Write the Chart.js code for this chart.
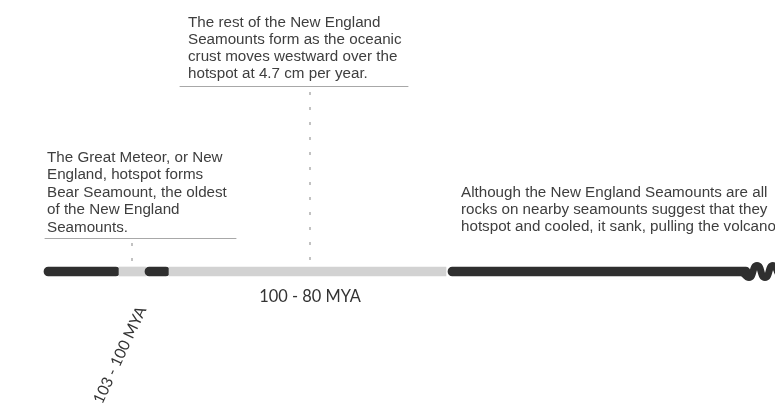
<!DOCTYPE html>
<html>
<head>
<meta charset="utf-8">
<script src="https://cdn.jsdelivr.net/npm/chart.js@4"></script>
<style>
html,body{margin:0;padding:0;background:#fff;}
#wrap{width:775px;height:407px;position:relative;overflow:hidden;}
</style>
</head>
<body>
<div id="wrap"><canvas id="c"></canvas></div>
<script>
// Timeline segments (position along the timeline, start/end)
const segStart = [44, 119, 145, 169, 448];
const segEnd   = [120, 146, 170, 446, 750];
const segKind  = ['active', 'gap', 'active', 'gap', 'active'];
const timelineLevel = 271.5;

// Period labels
const periodLabels = ['103 - 100 MYA', '100 - 80 MYA'];
const periodPos = [120, 310];

// Event markers (position along timeline, top of marker)
const markerPos = [132, 310];
const markerTop = [243, 92];

// Annotation text
const noteA = ['The Great Meteor, or New', 'England, hotspot forms', 'Bear Seamount, the oldest', 'of the New England', 'Seamounts.'];
const noteB = ['The rest of the New England', 'Seamounts form as the oceanic', 'crust moves westward over the', 'hotspot at 4.7 cm per year.'];
const noteC = ['Although the New England Seamounts are all', 'rocks on nearby seamounts suggest that they', 'hotspot and cooled, it sank, pulling the volcano'];

const colors = {active: '#2f2f2f', gap: '#d2d2d2'};

const overlay = {
  id: 'overlay',
  beforeDatasetsDraw(chart) {
    const ctx = chart.ctx, xs = chart.scales.x, ys = chart.scales.y;
    ctx.save();
    ctx.strokeStyle = '#c2c2c2';
    ctx.lineWidth = 2;
    ctx.setLineDash([3, 12]);
    markerPos.forEach((p, i) => {
      ctx.beginPath();
      ctx.moveTo(xs.getPixelForValue(p), ys.getPixelForValue(markerTop[i]));
      ctx.lineTo(xs.getPixelForValue(p), ys.getPixelForValue(timelineLevel - 5));
      ctx.stroke();
    });
    ctx.restore();
  },
  afterDatasetsDraw(chart) {
    const ctx = chart.ctx, xs = chart.scales.x, ys = chart.scales.y;
    const X = v => xs.getPixelForValue(v), Y = v => ys.getPixelForValue(v);
    const L = timelineLevel;
    ctx.save();
    // squiggle at the end
    ctx.strokeStyle = colors.active;
    ctx.lineWidth = 7;
    ctx.lineCap = 'round';
    ctx.lineJoin = 'round';
    ctx.beginPath();
    ctx.moveTo(X(740), Y(L));
    ctx.bezierCurveTo(X(744), Y(L), X(745), Y(L + 6), X(749), Y(L + 6));
    ctx.bezierCurveTo(X(754), Y(L + 6), X(752), Y(L - 6), X(757), Y(L - 6));
    ctx.bezierCurveTo(X(762), Y(L - 6), X(760), Y(L + 6), X(765), Y(L + 6));
    ctx.bezierCurveTo(X(770), Y(L + 6), X(768), Y(L - 6), X(773), Y(L - 6));
    ctx.bezierCurveTo(X(777), Y(L - 6), X(777), Y(L + 4), X(781), Y(L + 5));
    ctx.stroke();

    // rules under notes
    ctx.strokeStyle = '#a8a8a8';
    ctx.lineWidth = 1;
    ctx.beginPath();
    ctx.moveTo(X(45), Y(238.5)); ctx.lineTo(X(236), Y(238.5));
    ctx.moveTo(X(180), Y(86.5)); ctx.lineTo(X(408), Y(86.5));
    ctx.stroke();

    // notes
    ctx.fillStyle = '#3e3e3e';
    ctx.font = '15.2px "Liberation Sans", Arial, sans-serif';
    ctx.textBaseline = 'alphabetic';
    ctx.textAlign = 'left';
    noteB.forEach((t, i) => ctx.fillText(t, X(188), Y(26.5 + i * 17.2)));
    noteA.forEach((t, i) => ctx.fillText(t, X(47), Y(161.7 + i * 17.5)));
    noteC.forEach((t, i) => ctx.fillText(t, X(461), Y(196.5 + i * 17.2)));

    // period labels
    ctx.fillStyle = '#333';
    ctx.font = '16.4px Lato, "Open Sans", sans-serif';
    ctx.textAlign = 'center';
    ctx.fillText(periodLabels[1], X(periodPos[1]), Y(301.5));
    ctx.save();
    ctx.translate(X(periodPos[0]), Y(355));
    ctx.rotate(-65 * Math.PI / 180);
    ctx.font = '15.5px Lato, "Open Sans", sans-serif';
    ctx.textBaseline = 'middle';
    ctx.fillText(periodLabels[0], 0, 0);
    ctx.restore();
    ctx.restore();
  }
};

new Chart(document.getElementById('c'), {
  type: 'bar',
  data: {
    datasets: [{
      data: segStart.map((s, i) => ({x: [s, segEnd[i]], y: timelineLevel})),
      backgroundColor: segKind.map(k => colors[k]),
      borderRadius: segKind.map(k => k === 'active' ? 5 : 0),
      borderSkipped: false,
      barThickness: segKind.map(k => k === 'active' ? 9 : 7),
      grouped: false
    }]
  },
  options: {
    indexAxis: 'y',
    responsive: true,
    maintainAspectRatio: false,
    animation: false,
    layout: {padding: 0},
    plugins: {legend: {display: false}, tooltip: {enabled: false}},
    scales: {
      x: {type: 'linear', min: 0, max: 775, display: false, offset: false, grid: {offset: false}},
      y: {type: 'linear', min: 0, max: 407, reverse: true, display: false, offset: false, grid: {offset: false}}
    }
  },
  plugins: [overlay]
});
</script>
</body>
</html>
